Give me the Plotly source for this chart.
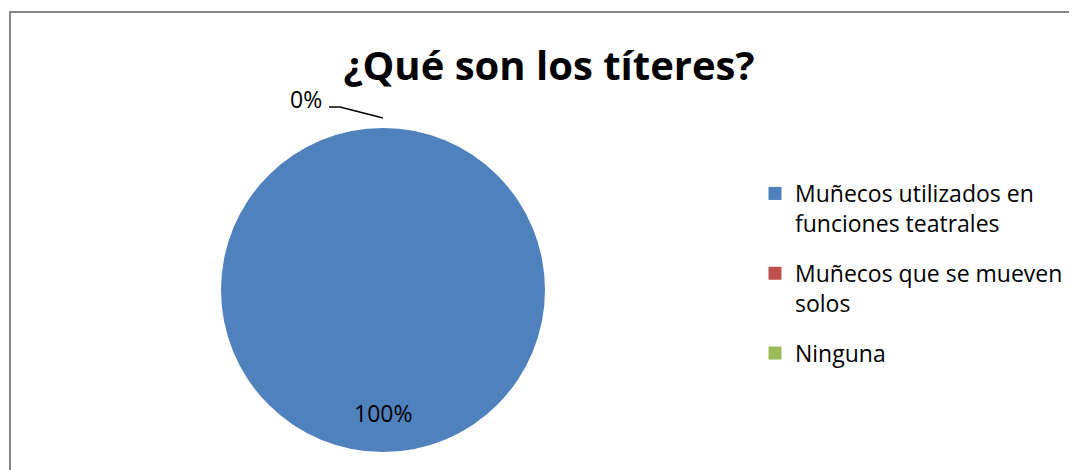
import plotly.graph_objects as go

title = "¿Qué son los títeres?"
labels = ["Muñecos utilizados en<br>funciones teatrales",
          "Muñecos que se mueven<br>solos",
          "Ninguna"]
values = [100, 0, 0]
colors = ["#4F81BD", "#C0504D", "#9BBB59"]

# the page body has an 8px margin, so the figure is drawn 8px in from the corner
OFF = 8
W, H = 1077 - OFF, 470 - OFF
font = "Open Sans"


def px(x):
    return (x - OFF) / W


def py(y):
    return 1 - (y - OFF) / H


total = sum(values)
pcts = [v / total * 100 for v in values]

fig = go.Figure()

fig.add_trace(go.Pie(
    labels=labels,
    values=values,
    marker=dict(colors=colors, line=dict(width=0)),
    textinfo="none",
    sort=False,
    showlegend=False,
    hoverinfo="label+percent",
    domain=dict(x=[px(221), px(545)], y=[py(452), py(128)]),
))

# legend entries, one per category, so they can be spaced like Excel's
for i in range(len(labels)):
    fig.add_trace(go.Scatter(
        x=[None], y=[None], mode="markers",
        name=labels[i], legendgroup=f"g{i}",
        marker=dict(symbol="square", size=13, color=colors[i]),
        hoverinfo="skip",
    ))

# percentage labels (Excel places 100% inside, the empty slices outside)
fig.add_annotation(x=px(383), y=py(413), xref="paper", yref="paper",
                   xanchor="center", yanchor="middle",
                   text=f"{pcts[0]:.0f}%", showarrow=False,
                   font=dict(family=font, size=23, color="#000000"))
fig.add_annotation(x=px(306), y=py(99), xref="paper", yref="paper",
                   xanchor="center", yanchor="middle",
                   text=f"{pcts[1]:.0f}%", showarrow=False,
                   font=dict(family=font, size=23, color="#000000"))

# leader line for the 0% label
fig.add_shape(type="path", xref="paper", yref="paper",
              path=f"M {px(329)} {py(107)} L {px(340)} {py(107)} L {px(383)} {py(118)}",
              line=dict(color="#000000", width=1.5))

# chart area border
fig.add_shape(type="rect", xref="paper", yref="paper",
              x0=px(10), y0=-0.05, x1=1.05, y1=py(12),
              line=dict(color="#868686", width=2))

fig.update_xaxes(visible=False)
fig.update_yaxes(visible=False)

fig.update_layout(
    width=W, height=H,
    margin=dict(l=0, r=0, t=0, b=0),
    paper_bgcolor="white",
    plot_bgcolor="white",
    title=dict(text=f"<b>{title}</b>", x=px(549), xanchor="center",
               y=py(66), yanchor="middle",
               font=dict(family=font, size=40, color="#000000")),
    showlegend=True,
    legend=dict(x=px(755), y=py(172), xanchor="left", yanchor="top",
                font=dict(family=font, size=23, color="#000000"),
                itemwidth=30, tracegroupgap=17, valign="top",
                bgcolor="rgba(0,0,0,0)"),
)

fig.write_html("out.html")
